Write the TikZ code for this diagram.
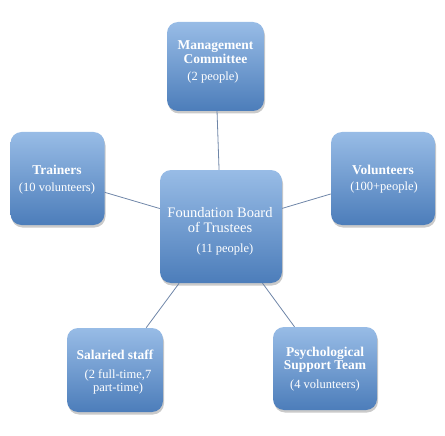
\documentclass[tikz,border=0pt]{standalone}
\usepackage{fontspec}
\setmainfont{Liberation Serif}
\usetikzlibrary{shadows}
\definecolor{boxtop}{HTML}{98BCE6}
\definecolor{boxbot}{HTML}{4C7DBA}
\definecolor{linec}{HTML}{6F86A8}
\tikzset{
  orgbox/.style={rectangle, rounded corners=11pt, top color=boxtop, bottom color=boxbot,
    draw=none, inner sep=0pt,
    drop shadow={shadow xshift=1pt, shadow yshift=-2.5pt, opacity=0.35, fill=black!60}},
  ttl/.style={text=white, font=\fontsize{13.5}{13.5}\selectfont\bfseries, align=center, inner sep=0pt},
  sub/.style={text=white, font=\fontsize{12.5}{12.5}\selectfont, align=center, inner sep=0pt},
  ctr/.style={text=white, font=\fontsize{14.5}{14.5}\selectfont, align=center, inner sep=0pt},
  conn/.style={draw=linec, line width=0.8pt}
}
\begin{document}
\begin{tikzpicture}[x=1pt,y=-1pt]
\useasboundingbox (0,0) rectangle (445,436);
% boxes
\node[orgbox, minimum width=97pt, minimum height=89pt] (mgmt) at (215.5,66.5) {};
\node[orgbox, minimum width=94pt, minimum height=93pt] (train) at (57.5,178.5) {};
\node[orgbox, minimum width=104pt, minimum height=93pt] (vol) at (383,178.5) {};
\node[orgbox, minimum width=122pt, minimum height=113pt] (board) at (221,226.5) {};
\node[orgbox, minimum width=96pt, minimum height=84pt] (staff) at (115,370) {};
\node[orgbox, minimum width=104pt, minimum height=83pt] (psych) at (325,368.5) {};
% connectors
\draw[conn] (board) -- (mgmt);
\draw[conn] (board) -- (train);
\draw[conn] (board) -- (vol);
\draw[conn] (board) -- (staff);
\draw[conn] (board) -- (psych);
% texts
\node[ttl] (mgmtT) at (215.5,52) {Management\\Committee};
\node[sub] (mgmtS) at (213,77) {(2 people)};
\node[ttl] (trainT) at (57,170) {Trainers};
\node[sub] (trainS) at (57,188) {(10 volunteers)};
\node[ttl] (volT) at (383,170) {Volunteers};
\node[sub] (volS) at (384,187) {(100+people)};
\node[ctr] (boardT) at (220,220) {Foundation Board\\of Trustees};
\node[sub] (boardS) at (225,249) {(11 people)};
\node[ttl] (staffT) at (115,355) {Salaried staff};
\node[sub] (staffS) at (118,382) {(2 full-time,7\\part-time)};
\node[ttl] (psychT) at (325,360) {Psychological\\Support Team};
\node[sub] (psychS) at (325,385) {(4 volunteers)};
\end{tikzpicture}
\end{document}
